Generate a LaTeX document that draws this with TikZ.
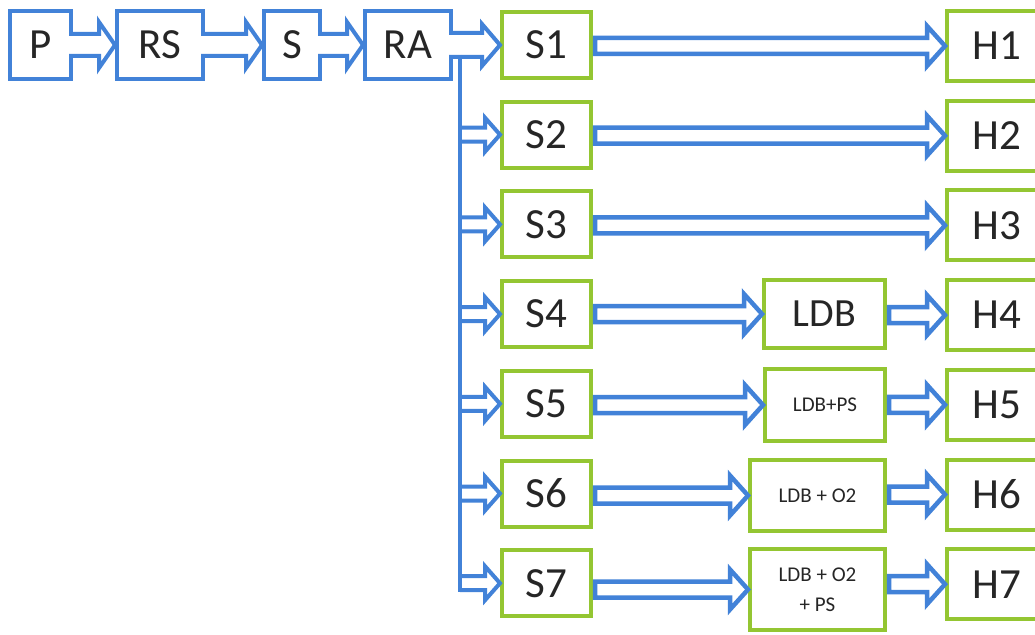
\documentclass[tikz,border=0pt]{standalone}
\usepackage{fontspec}
\setmainfont{Carlito}
\usetikzlibrary{calc}

\definecolor{azul}{RGB}{66,130,216}
\definecolor{verde}{RGB}{148,198,50}

\tikzset{
	caja/.style={draw=azul, line width=4pt, fill=white, inner sep=0pt, text=black!85,
		minimum height=68pt, font=\fontsize{43}{50}\selectfont},
	cajav/.style={caja, draw=verde, minimum height=66pt},
	cuerpo/.store in=\cuerpo, punta/.store in=\punta, largo/.store in=\largo, atras/.store in=\atras,
	atras=4pt,
	% flecha hueca abierta por detras (se apoya en la caja o en la bajada)
	flecha/.style={draw=azul, line width=4pt, fill=white,
		to path={let \p1=(\tikztostart), \p2=(\tikztotarget) in
			(\x1-\atras,\y2+\cuerpo) -- (\x2-\largo,\y2+\cuerpo) -- (\x2-\largo,\y2+\punta) -- (\x2,\y2)
			-- (\x2-\largo,\y2-\punta) -- (\x2-\largo,\y2-\cuerpo) -- (\x1-\atras,\y2-\cuerpo)}},
	% flecha hueca cerrada
	flechac/.style={draw=azul, line width=4.5pt, fill=white,
		to path={let \p1=(\tikztostart), \p2=(\tikztotarget) in
			(\x1+2pt,\y2+\cuerpo) -- (\x2-\largo,\y2+\cuerpo) -- (\x2-\largo,\y2+\punta) -- (\x2,\y2)
			-- (\x2-\largo,\y2-\punta) -- (\x2-\largo,\y2-\cuerpo) -- (\x1+2pt,\y2-\cuerpo) -- cycle}},
	grande/.style={flecha, cuerpo=11pt, punta=23pt, largo=16pt},
	chica/.style={flecha, atras=0pt, cuerpo=7pt, punta=17pt, largo=15pt},
	larga/.style={flechac, cuerpo=8pt, punta=20pt, largo=18pt},
}

\begin{document}
\begin{tikzpicture}[x=1pt, y=-1pt]
	\useasboundingbox[fill=white] (0,0) rectangle (1035,634);

	\node[caja, minimum width=61pt] (p) at (40.5,45) {P};
	\node[caja, minimum width=86pt] (rs) at (160,45) {RS};
	\node[caja, minimum width=56pt] (s) at (292,45) {S};
	\node[caja, minimum width=86pt] (ra) at (408,45) {RA};

	\foreach \i in {1,...,7}{
		\node[cajav, minimum width=89pt] (s\i) at (546.5,{45+(\i-1)*89.7}) {S\i};
		\node[cajav, minimum width=100pt, minimum height=70pt] (h\i) at (997,{46+(\i-1)*89.7}) {H\i};
	}

	\node[cajav, minimum width=121pt, minimum height=68pt, font=\fontsize{40}{46}\selectfont] (l4) at (824.5,314) {LDB};
	\node[cajav, minimum width=120pt, minimum height=72pt, font=\fontsize{21}{26}\selectfont] (l5) at (825,405) {LDB+PS};
	\node[cajav, minimum width=135pt, minimum height=71pt, font=\fontsize{21}{26}\selectfont] (l6) at (817.5,495.5) {LDB + O2};
	\node[cajav, minimum width=135pt, minimum height=81pt, font=\fontsize{21}{30}\selectfont, align=center] (l7) at (817.5,589.5) {LDB + O2\\+ PS};

	\draw[grande] (p.east) to (rs.west);
	\draw[grande] (rs.east) to (s.west);
	\draw[grande] (s.east) to (ra.west);

	% reparto desde RA hacia las siete S
	\coordinate (bajada) at (460,45);
	\foreach \i in {2,...,7}
		\draw[chica] (bajada |- s\i) to (s\i.west);
	\draw[grande, cuerpo=12pt, punta=21pt, largo=18pt] (ra.east) to (s1.west);
	\draw[azul, line width=4pt] ($(bajada)+(0,10)$) -- ($(bajada |- s7)+(0,9)$);

	\foreach \i in {1,2,3}
		\draw[larga] (s\i.east) to (h\i.west);
	\foreach \i in {4,...,7}{
		\draw[larga] (s\i.east) to (l\i.west);
		\draw[larga] (l\i.east) to (h\i.west);
	}
\end{tikzpicture}
\end{document}
